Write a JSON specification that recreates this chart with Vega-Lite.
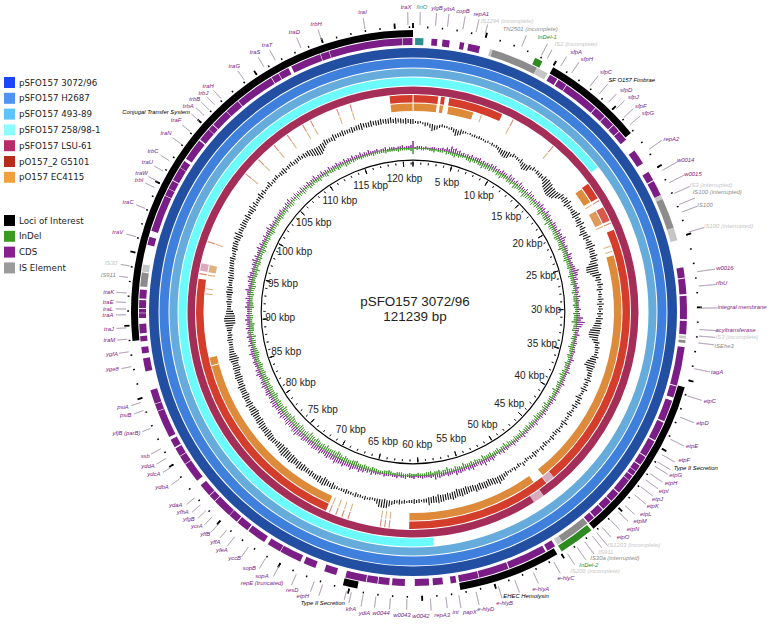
{"$schema":"https://vega.github.io/schema/vega-lite/v6.json","width":716,"height":624,"padding":{"left":55,"top":0,"right":0,"bottom":0},"autosize":{"type":"none"},"background":"white","config":{"view":{"stroke":null}},
"datasets":{
"rings":[{"s":0,"e":121239,"k":"S3072"},{"s":0,"e":121239,"k":"H2687"},{"s":0,"e":121239,"k":"S493"},{"s":0,"e":17500,"k":"S258"},{"s":58900,"e":121239,"k":"S258"},{"s":0,"e":48700,"k":"LSU"},{"s":48700,"e":49700,"k":"LSUpale"},{"s":49700,"e":121239,"k":"LSU"},{"s":0,"e":121239,"k":"Inner"},{"s":0,"e":121239,"k":"Skew"}],
"locus":[{"s":10040,"e":17040,"k":"Locus"},{"s":35530,"e":47220,"k":"Locus"},{"s":50250,"e":57360,"k":"Locus"},{"s":64460,"e":65470,"k":"Locus"},{"s":88950,"e":121239,"k":"Locus"},{"s":8650,"e":9200,"k":"InDel"},{"s":47400,"e":49900,"k":"InDel"}],
"cds":[{"s":150,"e":740,"k":"finO"},{"s":1310,"e":1720,"k":"CDS"},{"s":2090,"e":2600,"k":"CDS"},{"s":3330,"e":3640,"k":"CDS"},{"s":3940,"e":4780,"k":"CDS"},{"s":5500,"e":5690,"k":"ISlight"},{"s":5690,"e":9060,"k":"IS"},{"s":9060,"e":9900,"k":"ISlight"},{"s":10100,"e":10700,"k":"CDS"},{"s":10800,"e":11450,"k":"CDS"},{"s":11500,"e":14050,"k":"CDS"},{"s":14100,"e":14950,"k":"CDS"},{"s":15000,"e":15800,"k":"CDS"},{"s":15850,"e":16400,"k":"CDS"},{"s":16450,"e":17200,"k":"CDS"},{"s":18150,"e":19230,"k":"CDS"},{"s":19950,"e":20620,"k":"CDS"},{"s":20700,"e":21800,"k":"CDS"},{"s":21800,"e":22100,"k":"ISlight"},{"s":22100,"e":24280,"k":"IS"},{"s":24280,"e":25190,"k":"ISlight"},{"s":27150,"e":27880,"k":"CDS"},{"s":27950,"e":29040,"k":"CDS"},{"s":29170,"e":30820,"k":"CDS"},{"s":30950,"e":31890,"k":"CDS"},{"s":32000,"e":32200,"k":"ISlight"},{"s":32300,"e":32500,"k":"IS"},{"s":32800,"e":35560,"k":"CDS"},{"s":35630,"e":36440,"k":"CDS"},{"s":36680,"e":38230,"k":"CDS"},{"s":38330,"e":39710,"k":"CDS"},{"s":39800,"e":41000,"k":"CDS"},{"s":41060,"e":41730,"k":"CDS"},{"s":41800,"e":42270,"k":"CDS"},{"s":42300,"e":42640,"k":"CDS"},{"s":42700,"e":43060,"k":"CDS"},{"s":43100,"e":44200,"k":"CDS"},{"s":44270,"e":45000,"k":"CDS"},{"s":45060,"e":45800,"k":"CDS"},{"s":45870,"e":46620,"k":"CDS"},{"s":46700,"e":47220,"k":"CDS"},{"s":47300,"e":49500,"k":"IS"},{"s":49500,"e":49900,"k":"ISlight"},{"s":50100,"e":50720,"k":"CDS"},{"s":50870,"e":53680,"k":"CDS"},{"s":53750,"e":55900,"k":"CDS"},{"s":55950,"e":57350,"k":"CDS"},{"s":57550,"e":57950,"k":"CDS"},{"s":58500,"e":59210,"k":"CDS"},{"s":59480,"e":60490,"k":"CDS"},{"s":61200,"e":62100,"k":"CDS"},{"s":62300,"e":63080,"k":"CDS"},{"s":63140,"e":63900,"k":"CDS"},{"s":63960,"e":65440,"k":"CDS"},{"s":66110,"e":66990,"k":"CDS"},{"s":67660,"e":68540,"k":"CDS"},{"s":68800,"e":70360,"k":"CDS"},{"s":70400,"e":71400,"k":"CDS"},{"s":71700,"e":73050,"k":"CDS"},{"s":73150,"e":74030,"k":"CDS"},{"s":74100,"e":74770,"k":"CDS"},{"s":74800,"e":76200,"k":"CDS"},{"s":76250,"e":76750,"k":"CDS"},{"s":76800,"e":77730,"k":"CDS"},{"s":78130,"e":79550,"k":"CDS"},{"s":79590,"e":80220,"k":"CDS"},{"s":80260,"e":80870,"k":"CDS"},{"s":80970,"e":81570,"k":"CDS"},{"s":81780,"e":83760,"k":"CDS"},{"s":83800,"e":84300,"k":"CDS"},{"s":84340,"e":85350,"k":"CDS"},{"s":86700,"e":87640,"k":"CDS"},{"s":88000,"e":88450,"k":"CDS"},{"s":88850,"e":89220,"k":"CDS"},{"s":89420,"e":90090,"k":"CDS"},{"s":90500,"e":90840,"k":"CDS"},{"s":90880,"e":91140,"k":"CDS"},{"s":91210,"e":91780,"k":"CDS"},{"s":91880,"e":92520,"k":"CDS"},{"s":92730,"e":93730,"k":"IS"},{"s":93800,"e":94300,"k":"ISlight"},{"s":95720,"e":96290,"k":"CDS"},{"s":96730,"e":99380,"k":"CDS"},{"s":99420,"e":99930,"k":"CDS"},{"s":99960,"e":100570,"k":"CDS"},{"s":100630,"e":101620,"k":"CDS"},{"s":101650,"e":102190,"k":"CDS"},{"s":102390,"e":103970,"k":"CDS"},{"s":104070,"e":104990,"k":"CDS"},{"s":105020,"e":105420,"k":"CDS"},{"s":105480,"e":106770,"k":"CDS"},{"s":106800,"e":107850,"k":"CDS"},{"s":107900,"e":110730,"k":"CDS"},{"s":110770,"e":111320,"k":"CDS"},{"s":111360,"e":112120,"k":"CDS"},{"s":112350,"e":114560,"k":"CDS"},{"s":114600,"e":115220,"k":"CDS"},{"s":115250,"e":120460,"k":"CDS"},{"s":120500,"e":121200,"k":"CDS"}],
"g5101":[{"s":60,"e":2250,"k":"G5101"},{"s":2500,"e":2850,"k":"G5101"},{"s":3250,"e":8180,"k":"G5101"},{"s":9220,"e":9320,"k":"Gpale"},{"s":13500,"e":13600,"k":"Gpale"},{"s":18100,"e":19650,"k":"G5101"},{"s":19850,"e":19950,"k":"Gpale"},{"s":20580,"e":21900,"k":"Gmid"},{"s":22100,"e":22200,"k":"Gpale"},{"s":22800,"e":47000,"k":"G5101"},{"s":47000,"e":47800,"k":"LSUpale"},{"s":47850,"e":60960,"k":"G5101"},{"s":62700,"e":62800,"k":"Gpale"},{"s":63100,"e":63200,"k":"Gpale"},{"s":63500,"e":63600,"k":"Gpale"},{"s":66450,"e":66550,"k":"Gpale"},{"s":67020,"e":67120,"k":"Gpale"},{"s":67600,"e":67700,"k":"Gpale"},{"s":68200,"e":68300,"k":"Gpale"},{"s":68600,"e":93900,"k":"G5101"},{"s":94300,"e":94420,"k":"Gpale"},{"s":94640,"e":95310,"k":"LSUpale"},{"s":97270,"e":97370,"k":"Gpale"},{"s":104200,"e":104300,"k":"Gpale"},{"s":105900,"e":106000,"k":"Gpale"},{"s":107770,"e":107870,"k":"Gpale"},{"s":109260,"e":109360,"k":"Gpale"},{"s":110900,"e":111000,"k":"Gpale"},{"s":111700,"e":111800,"k":"Gpale"},{"s":114250,"e":114350,"k":"Gpale"},{"s":115500,"e":115600,"k":"Gpale"},{"s":119150,"e":121200,"k":"G5101"}],
"ec4115":[{"s":60,"e":2200,"k":"EC4115"},{"s":2490,"e":2800,"k":"EC4115"},{"s":3300,"e":5660,"k":"EC4115"},{"s":6400,"e":6500,"k":"ECpale"},{"s":9220,"e":9320,"k":"ECpale"},{"s":13500,"e":13600,"k":"ECpale"},{"s":18150,"e":19600,"k":"EC4115"},{"s":19850,"e":19950,"k":"ECpale"},{"s":20580,"e":21900,"k":"ECmid"},{"s":22100,"e":22200,"k":"ECpale"},{"s":24050,"e":24150,"k":"ECpale"},{"s":24550,"e":24650,"k":"ECpale"},{"s":25000,"e":47660,"k":"EC4115"},{"s":48730,"e":60960,"k":"EC4115"},{"s":62700,"e":62800,"k":"ECpale"},{"s":63100,"e":63200,"k":"ECpale"},{"s":63500,"e":63600,"k":"ECpale"},{"s":66450,"e":66550,"k":"ECpale"},{"s":67020,"e":67120,"k":"ECpale"},{"s":67600,"e":67700,"k":"ECpale"},{"s":68200,"e":68300,"k":"ECpale"},{"s":68600,"e":85850,"k":"EC4115"},{"s":85950,"e":86660,"k":"EC4115"},{"s":92560,"e":92660,"k":"ECpale"},{"s":93030,"e":93130,"k":"ECpale"},{"s":94300,"e":94420,"k":"ECpale"},{"s":94640,"e":95310,"k":"ECpale"},{"s":97270,"e":97370,"k":"ECpale"},{"s":104200,"e":104300,"k":"ECpale"},{"s":105900,"e":106000,"k":"ECpale"},{"s":107770,"e":107870,"k":"ECpale"},{"s":109260,"e":109360,"k":"ECpale"},{"s":110900,"e":111000,"k":"ECpale"},{"s":111700,"e":111800,"k":"ECpale"},{"s":114250,"e":114350,"k":"ECpale"},{"s":115500,"e":115600,"k":"ECpale"},{"s":119160,"e":121200,"k":"EC4115"}],
"ticks":[{"p":0},{"p":1000},{"p":2000},{"p":3000},{"p":4000},{"p":5000},{"p":6000},{"p":7000},{"p":8000},{"p":9000},{"p":10000},{"p":11000},{"p":12000},{"p":13000},{"p":14000},{"p":15000},{"p":16000},{"p":17000},{"p":18000},{"p":19000},{"p":20000},{"p":21000},{"p":22000},{"p":23000},{"p":24000},{"p":25000},{"p":26000},{"p":27000},{"p":28000},{"p":29000},{"p":30000},{"p":31000},{"p":32000},{"p":33000},{"p":34000},{"p":35000},{"p":36000},{"p":37000},{"p":38000},{"p":39000},{"p":40000},{"p":41000},{"p":42000},{"p":43000},{"p":44000},{"p":45000},{"p":46000},{"p":47000},{"p":48000},{"p":49000},{"p":50000},{"p":51000},{"p":52000},{"p":53000},{"p":54000},{"p":55000},{"p":56000},{"p":57000},{"p":58000},{"p":59000},{"p":60000},{"p":61000},{"p":62000},{"p":63000},{"p":64000},{"p":65000},{"p":66000},{"p":67000},{"p":68000},{"p":69000},{"p":70000},{"p":71000},{"p":72000},{"p":73000},{"p":74000},{"p":75000},{"p":76000},{"p":77000},{"p":78000},{"p":79000},{"p":80000},{"p":81000},{"p":82000},{"p":83000},{"p":84000},{"p":85000},{"p":86000},{"p":87000},{"p":88000},{"p":89000},{"p":90000},{"p":91000},{"p":92000},{"p":93000},{"p":94000},{"p":95000},{"p":96000},{"p":97000},{"p":98000},{"p":99000},{"p":100000},{"p":101000},{"p":102000},{"p":103000},{"p":104000},{"p":105000},{"p":106000},{"p":107000},{"p":108000},{"p":109000},{"p":110000},{"p":111000},{"p":112000},{"p":113000},{"p":114000},{"p":115000},{"p":116000},{"p":117000},{"p":118000},{"p":119000},{"p":120000},{"p":121000}],
"kbp":[{"p":5000,"t":"5 kbp"},{"p":10000,"t":"10 kbp"},{"p":15000,"t":"15 kbp"},{"p":20000,"t":"20 kbp"},{"p":25000,"t":"25 kbp"},{"p":30000,"t":"30 kbp"},{"p":35000,"t":"35 kbp"},{"p":40000,"t":"40 kbp"},{"p":45000,"t":"45 kbp"},{"p":50000,"t":"50 kbp"},{"p":55000,"t":"55 kbp"},{"p":60000,"t":"60 kbp"},{"p":65000,"t":"65 kbp"},{"p":70000,"t":"70 kbp"},{"p":75000,"t":"75 kbp"},{"p":80000,"t":"80 kbp"},{"p":85000,"t":"85 kbp"},{"p":90000,"t":"90 kbp"},{"p":95000,"t":"95 kbp"},{"p":100000,"t":"100 kbp"},{"p":105000,"t":"105 kbp"},{"p":110000,"t":"110 kbp"},{"p":115000,"t":"115 kbp"},{"p":120000,"t":"120 kbp"}],
"labels":[{"t":"traI","k":"CDS","p":118020,"r":304,"l":118000,"o":298},{"t":"traX","k":"CDS","p":120800,"r":305,"l":120900,"o":300},{"t":"finO","k":"finO","p":570,"r":305,"l":470,"o":300},{"t":"ylgB","k":"CDS","p":1520,"r":305,"l":1520,"o":300},{"t":"yibA","k":"CDS","p":2290,"r":305,"l":2320,"o":300},{"t":"copB","k":"CDS","p":3170,"r":305,"l":3370,"o":300},{"t":"repA1","k":"CDS","p":4340,"r":306,"l":4280,"o":300},{"t":"IS1294 (incomplete)","k":"ISlight","p":6030,"r":306,"l":4900,"o":297},{"t":"TN2501 (incomplete)","k":"IS","p":7580,"r":306,"l":7500,"o":299},{"t":"InDel-1","k":"InDel","p":8760,"r":306,"l":8960,"o":300},{"t":"IS2 (incomplete)","k":"ISlight","p":10540,"r":314,"l":9400,"o":297},{"t":"sfpA","k":"CDS","p":10810,"r":307,"l":10440,"o":298},{"t":"sfpH","k":"CDS","p":11620,"r":307,"l":11310,"o":300},{"t":"sfpC","k":"CDS","p":13070,"r":308,"l":12830,"o":300},{"t":"SF O157 Fimbrae","k":"Locus","p":14580,"r":319,"l":13640,"o":300},{"t":"sfpD","k":"CDS","p":14750,"r":308,"l":14480,"o":298},{"t":"sfpJ","k":"CDS","p":15390,"r":308,"l":15160,"o":299},{"t":"sfpF","k":"CDS","p":16130,"r":307,"l":15930,"o":300},{"t":"sfpG","k":"CDS","p":16740,"r":308,"l":16570,"o":300},{"t":"repA2","k":"CDS","p":18930,"r":311,"l":18660,"o":302},{"t":"w0014","k":"CDS","p":20510,"r":312,"l":20340,"o":304},{"t":"w0015","k":"CDS","p":21490,"r":312,"l":21290,"o":304},{"t":"IS3 (interrupted)","k":"ISlight","p":22530,"r":324,"l":22090,"o":304},{"t":"IS100 (interrupted)","k":"IS","p":23070,"r":327,"l":22900,"o":304},{"t":"IS100","k":"IS","p":23540,"r":311,"l":23440,"o":303},{"t":"IS100 (interrupted)","k":"ISlight","p":25190,"r":327,"l":24860,"o":303},{"t":"w0016","k":"CDS","p":27620,"r":315,"l":27590,"o":305},{"t":"rfbU","k":"CDS","p":28490,"r":310,"l":28560,"o":304},{"t":"integral membrane","k":"CDS","p":30010,"r":329,"l":30050,"o":304},{"t":"acyltransferase","k":"CDS","p":31390,"r":323,"l":31490,"o":304},{"t":"IS3 (incomplete)","k":"ISlight","p":31800,"r":325,"l":31930,"o":303},{"t":"ISEhe3","k":"IS","p":32400,"r":313,"l":32400,"o":303},{"t":"tagA","k":"CDS","p":34080,"r":310,"l":34150,"o":303},{"t":"etpC","k":"CDS","p":35940,"r":310,"l":36040,"o":302},{"t":"etpD","k":"CDS","p":37380,"r":310,"l":37550,"o":302},{"t":"etpE","k":"CDS","p":38930,"r":309.5,"l":39170,"o":302},{"t":"etpF","k":"CDS","p":39940,"r":309,"l":40350,"o":302},{"t":"Type II Secretion","k":"Locus","p":40050,"r":323,"l":40920,"o":302},{"t":"etpG","k":"CDS","p":41020,"r":309,"l":41260,"o":302},{"t":"etpH","k":"CDS","p":41600,"r":309.5,"l":41860,"o":302},{"t":"etpI","k":"CDS","p":42270,"r":308,"l":42370,"o":302},{"t":"etpJ","k":"CDS","p":42910,"r":308,"l":42940,"o":302},{"t":"etpK","k":"CDS","p":43450,"r":308.6,"l":43620,"o":302},{"t":"etpL","k":"CDS","p":44090,"r":308,"l":44590,"o":300},{"t":"etpM","k":"CDS","p":44660,"r":308.6,"l":45200,"o":300},{"t":"etpN","k":"CDS","p":45330,"r":309,"l":45970,"o":300},{"t":"etpO","k":"CDS","p":46140,"r":308,"l":46710,"o":300},{"t":"IS1203 (incomplete)","k":"ISlight","p":45970,"r":321,"l":47220,"o":304},{"t":"IS911","k":"ISlight","p":47560,"r":308,"l":47590,"o":302},{"t":"IS30a (interrupted)","k":"IS","p":47350,"r":318,"l":48230,"o":302},{"t":"InDel-2","k":"InDel","p":48900,"r":308,"l":48870,"o":302},{"t":"IS200 (incomplete)","k":"ISlight","p":48800,"r":316.5,"l":49640,"o":300},{"t":"e-hlyC","k":"CDS","p":50550,"r":307,"l":50720,"o":300},{"t":"e-hlyA","k":"CDS","p":52270,"r":305,"l":52270,"o":299},{"t":"EHEC Hemolysin","k":"Locus","p":53320,"r":306,"l":53620,"o":300},{"t":"e-hlyB","k":"CDS","p":54730,"r":305,"l":54800,"o":300},{"t":"e-hlyD","k":"CDS","p":55980,"r":306,"l":56340,"o":300},{"t":"papX","k":"CDS","p":57000,"r":305,"l":57520,"o":300},{"t":"int","k":"CDS","p":57900,"r":303,"l":58400,"o":298},{"t":"repA3","k":"CDS","p":58770,"r":304,"l":59450,"o":299},{"t":"w0042","k":"CDS","p":60120,"r":304,"l":61030,"o":298},{"t":"w0043","k":"CDS","p":61330,"r":303,"l":62140,"o":298},{"t":"w0044","k":"CDS","p":62650,"r":303,"l":63120,"o":298},{"t":"ydiA","k":"CDS","p":63700,"r":305,"l":63990,"o":299},{"t":"kfrA","k":"CDS","p":64600,"r":303,"l":64800,"o":298},{"t":"Type II Secretion","k":"Locus","p":66420,"r":305,"l":65140,"o":296},{"t":"etpH","k":"CDS","p":67760,"r":304.6,"l":66800,"o":299},{"t":"resD","k":"CDS","p":68530,"r":303,"l":67400,"o":298},{"t":"repE (truncated)","k":"CDS","p":70440,"r":310,"l":68700,"o":299},{"t":"sopA","k":"CDS","p":70660,"r":304,"l":69990,"o":299},{"t":"sopB","k":"CDS","p":71600,"r":304,"l":71030,"o":299},{"t":"yccB","k":"CDS","p":72720,"r":304,"l":72410,"o":299},{"t":"yfeA","k":"CDS","p":73690,"r":305,"l":73560,"o":299},{"t":"yffA","k":"CDS","p":74330,"r":303,"l":74260,"o":297},{"t":"yffB","k":"CDS","p":75140,"r":304,"l":74940,"o":299},{"t":"ycrA","k":"CDS","p":75880,"r":304,"l":75580,"o":298},{"t":"yfgB","k":"CDS","p":76550,"r":305,"l":76180,"o":298},{"t":"yfhA","k":"CDS","p":77130,"r":305,"l":76720,"o":298},{"t":"ydaA","k":"CDS","p":77730,"r":306,"l":77330,"o":297},{"t":"ydbA","k":"CDS","p":79180,"r":306,"l":78950,"o":297},{"t":"ydcA","k":"CDS","p":80160,"r":305.5,"l":79920,"o":297},{"t":"yddA","k":"CDS","p":80760,"r":306.5,"l":80600,"o":298},{"t":"ssb","k":"CDS","p":81410,"r":304,"l":81340,"o":298},{"t":"yfjB (parB)","k":"CDS","p":83220,"r":311,"l":82890,"o":296},{"t":"psiB","k":"CDS","p":84300,"r":305,"l":84170,"o":297},{"t":"psiA","k":"CDS","p":84840,"r":305,"l":84740,"o":297},{"t":"yge8","k":"CDS","p":87330,"r":306,"l":87230,"o":297},{"t":"ygfA","k":"CDS","p":88240,"r":304,"l":88240,"o":297},{"t":"traM","k":"CDS","p":89150,"r":305,"l":89100,"o":297},{"t":"traJ","k":"CDS","p":89860,"r":304.5,"l":89860,"o":297},{"t":"traA","k":"CDS","p":90740,"r":305,"l":90740,"o":297},{"t":"traL","k":"CDS","p":91130,"r":305,"l":91130,"o":297},{"t":"traE","k":"CDS","p":91580,"r":305,"l":91580,"o":297},{"t":"traK","k":"CDS","p":92210,"r":305,"l":92210,"o":297},{"t":"IS911","k":"IS","p":93260,"r":307,"l":93260,"o":296},{"t":"IS30","k":"ISlight","p":94040,"r":306,"l":94040,"o":296},{"t":"traV","k":"CDS","p":96050,"r":306,"l":96050,"o":297},{"t":"traC","k":"CDS","p":98050,"r":305.5,"l":98050,"o":297},{"t":"trbI","k":"CDS","p":99590,"r":304,"l":99590,"o":297},{"t":"traW","k":"CDS","p":100060,"r":305,"l":100060,"o":297},{"t":"traU","k":"CDS","p":100840,"r":305,"l":100840,"o":297},{"t":"trbC","k":"CDS","p":101650,"r":306,"l":101650,"o":297},{"t":"traN","k":"CDS","p":103030,"r":305,"l":103030,"o":297},{"t":"traF","k":"CDS","p":104070,"r":305,"l":104070,"o":297},{"t":"Conjugal Transfer System","k":"Locus","p":103700,"r":325.6,"l":105000,"o":297},{"t":"trbA","k":"CDS","p":105250,"r":305,"l":105500,"o":298},{"t":"trbB","k":"CDS","p":105850,"r":305,"l":106000,"o":298},{"t":"trbJ","k":"CDS","p":106500,"r":303,"l":106500,"o":298},{"t":"traH","k":"CDS","p":107030,"r":305,"l":107100,"o":298},{"t":"traG","k":"CDS","p":109110,"r":304,"l":109110,"o":298},{"t":"traS","k":"CDS","p":110700,"r":304,"l":110700,"o":298},{"t":"traT","k":"CDS","p":111580,"r":304,"l":111580,"o":298},{"t":"traD","k":"CDS","p":113500,"r":304,"l":113500,"o":298},{"t":"trbH","k":"CDS","p":114980,"r":304,"l":114980,"o":298}],
"tracks":[{"p":0,"a":188,"b":193,"u":171,"d":158},{"p":500,"a":188,"b":191,"u":166,"d":162},{"p":1000,"a":188,"b":190,"u":166,"d":162},{"p":1500,"a":187,"b":190,"u":166,"d":163},{"p":2000,"a":182,"b":189,"u":165,"d":162},{"p":2500,"a":184,"b":188,"u":166,"d":161},{"p":3000,"a":187,"b":190,"u":166,"d":162},{"p":3500,"a":187,"b":189,"u":167,"d":162},{"p":4000,"a":186,"b":189,"u":168,"d":161},{"p":4500,"a":181,"b":188,"u":170,"d":162},{"p":5000,"a":183,"b":189,"u":169,"d":160},{"p":5500,"a":186,"b":188,"u":168,"d":161},{"p":6000,"a":186,"b":188,"u":167,"d":162},{"p":6500,"a":185,"b":188,"u":167,"d":161},{"p":7000,"a":185,"b":188,"u":168,"d":160},{"p":7500,"a":185,"b":187,"u":167,"d":161},{"p":8000,"a":185,"b":187,"u":168,"d":161},{"p":8500,"a":184,"b":187,"u":167,"d":159},{"p":9000,"a":184,"b":187,"u":167,"d":160},{"p":9500,"a":181,"b":186,"u":168,"d":160},{"p":10000,"a":179,"b":186,"u":168,"d":161},{"p":10500,"a":180,"b":187,"u":167,"d":160},{"p":11000,"a":184,"b":188,"u":168,"d":159},{"p":11500,"a":184,"b":187,"u":167,"d":161},{"p":12000,"a":183,"b":188,"u":169,"d":160},{"p":12500,"a":179,"b":186,"u":168,"d":160},{"p":13000,"a":181,"b":188,"u":168,"d":159},{"p":13500,"a":185,"b":189,"u":169,"d":161},{"p":14000,"a":185,"b":189,"u":167,"d":160},{"p":14500,"a":184,"b":189,"u":168,"d":158},{"p":15000,"a":184,"b":190,"u":169,"d":160},{"p":15500,"a":180,"b":190,"u":168,"d":161},{"p":16000,"a":178,"b":189,"u":167,"d":159},{"p":16500,"a":177,"b":188,"u":168,"d":160},{"p":17000,"a":179,"b":188,"u":169,"d":161},{"p":17500,"a":184,"b":191,"u":168,"d":158},{"p":18000,"a":185,"b":192,"u":169,"d":161},{"p":18500,"a":184,"b":193,"u":168,"d":160},{"p":19000,"a":186,"b":191,"u":167,"d":158},{"p":19500,"a":186,"b":191,"u":168,"d":160},{"p":20000,"a":185,"b":194,"u":167,"d":161},{"p":20500,"a":186,"b":192,"u":169,"d":160},{"p":21000,"a":184,"b":193,"u":168,"d":159},{"p":21500,"a":186,"b":192,"u":170,"d":161},{"p":22000,"a":183,"b":191,"u":167,"d":160},{"p":22500,"a":185,"b":193,"u":168,"d":158},{"p":23000,"a":186,"b":192,"u":167,"d":161},{"p":23500,"a":184,"b":194,"u":169,"d":160},{"p":24000,"a":186,"b":192,"u":168,"d":159},{"p":24500,"a":185,"b":193,"u":167,"d":161},{"p":25000,"a":184,"b":192,"u":168,"d":160},{"p":25500,"a":179,"b":191,"u":171,"d":161},{"p":26000,"a":178,"b":190,"u":169,"d":159},{"p":26500,"a":183,"b":192,"u":168,"d":161},{"p":27000,"a":185,"b":191,"u":167,"d":160},{"p":27500,"a":186,"b":192,"u":168,"d":162},{"p":28000,"a":185,"b":191,"u":167,"d":160},{"p":28500,"a":186,"b":190,"u":168,"d":161},{"p":29000,"a":185,"b":191,"u":167,"d":161},{"p":29500,"a":184,"b":191,"u":166,"d":160},{"p":30000,"a":185,"b":190,"u":168,"d":162},{"p":30500,"a":184,"b":190,"u":167,"d":160},{"p":31000,"a":183,"b":190,"u":170,"d":161},{"p":31500,"a":182,"b":189,"u":172,"d":159},{"p":32000,"a":180,"b":189,"u":169,"d":161},{"p":32500,"a":177,"b":188,"u":167,"d":160},{"p":33000,"a":178,"b":187,"u":168,"d":162},{"p":33500,"a":183,"b":189,"u":166,"d":160},{"p":34000,"a":185,"b":190,"u":167,"d":161},{"p":34500,"a":186,"b":190,"u":166,"d":159},{"p":35000,"a":184,"b":191,"u":167,"d":161},{"p":35500,"a":181,"b":190,"u":166,"d":160},{"p":36000,"a":179,"b":190,"u":168,"d":162},{"p":36500,"a":183,"b":189,"u":166,"d":160},{"p":37000,"a":185,"b":190,"u":167,"d":161},{"p":37500,"a":184,"b":191,"u":168,"d":160},{"p":38000,"a":185,"b":190,"u":166,"d":159},{"p":38500,"a":184,"b":191,"u":167,"d":161},{"p":39000,"a":186,"b":189,"u":168,"d":160},{"p":39500,"a":183,"b":190,"u":166,"d":161},{"p":40000,"a":185,"b":191,"u":167,"d":159},{"p":40500,"a":184,"b":190,"u":166,"d":161},{"p":41000,"a":186,"b":189,"u":168,"d":160},{"p":41500,"a":184,"b":190,"u":167,"d":161},{"p":42000,"a":185,"b":189,"u":166,"d":159},{"p":42500,"a":184,"b":191,"u":167,"d":160},{"p":43000,"a":186,"b":189,"u":168,"d":161},{"p":43500,"a":185,"b":190,"u":167,"d":160},{"p":44000,"a":184,"b":189,"u":166,"d":159},{"p":44500,"a":185,"b":190,"u":168,"d":161},{"p":45000,"a":186,"b":189,"u":167,"d":160},{"p":45500,"a":184,"b":189,"u":166,"d":160},{"p":46000,"a":185,"b":190,"u":167,"d":161},{"p":46500,"a":185,"b":188,"u":168,"d":159},{"p":47000,"a":184,"b":190,"u":166,"d":161},{"p":47500,"a":185,"b":189,"u":167,"d":160},{"p":48000,"a":184,"b":188,"u":168,"d":161},{"p":48500,"a":186,"b":190,"u":166,"d":160},{"p":49000,"a":184,"b":188,"u":167,"d":159},{"p":49500,"a":185,"b":189,"u":168,"d":161},{"p":50000,"a":185,"b":188,"u":167,"d":160},{"p":50500,"a":184,"b":189,"u":166,"d":161},{"p":51000,"a":185,"b":191,"u":169,"d":160},{"p":51500,"a":185,"b":193,"u":168,"d":161},{"p":52000,"a":184,"b":191,"u":170,"d":159},{"p":52500,"a":183,"b":190,"u":168,"d":161},{"p":53000,"a":184,"b":191,"u":167,"d":160},{"p":53500,"a":183,"b":190,"u":169,"d":160},{"p":54000,"a":184,"b":191,"u":168,"d":161},{"p":54500,"a":183,"b":189,"u":167,"d":159},{"p":55000,"a":182,"b":190,"u":168,"d":161},{"p":55500,"a":183,"b":191,"u":169,"d":160},{"p":56000,"a":182,"b":190,"u":167,"d":161},{"p":56500,"a":184,"b":192,"u":168,"d":159},{"p":57000,"a":184,"b":191,"u":167,"d":161},{"p":57500,"a":185,"b":192,"u":168,"d":160},{"p":58000,"a":184,"b":193,"u":169,"d":161},{"p":58500,"a":185,"b":192,"u":167,"d":160},{"p":59000,"a":186,"b":194,"u":166,"d":161},{"p":59500,"a":187,"b":191,"u":167,"d":162},{"p":60000,"a":187,"b":191,"u":166,"d":161},{"p":60500,"a":187,"b":192,"u":167,"d":162},{"p":61000,"a":188,"b":191,"u":166,"d":161},{"p":61500,"a":188,"b":192,"u":167,"d":162},{"p":62000,"a":188,"b":193,"u":166,"d":161},{"p":62500,"a":189,"b":193,"u":167,"d":161},{"p":63000,"a":190,"b":196,"u":166,"d":162},{"p":63500,"a":189,"b":198,"u":166,"d":160},{"p":64000,"a":190,"b":198,"u":167,"d":161},{"p":64500,"a":190,"b":193,"u":166,"d":162},{"p":65000,"a":190,"b":193,"u":167,"d":161},{"p":65500,"a":190,"b":194,"u":168,"d":160},{"p":66000,"a":190,"b":193,"u":167,"d":161},{"p":66500,"a":189,"b":194,"u":168,"d":160},{"p":67000,"a":190,"b":193,"u":169,"d":161},{"p":67500,"a":189,"b":194,"u":167,"d":159},{"p":68000,"a":190,"b":193,"u":170,"d":160},{"p":68500,"a":190,"b":193,"u":168,"d":161},{"p":69000,"a":188,"b":195,"u":170,"d":159},{"p":69500,"a":189,"b":194,"u":169,"d":160},{"p":70000,"a":187,"b":196,"u":171,"d":158},{"p":70500,"a":188,"b":195,"u":169,"d":159},{"p":71000,"a":189,"b":194,"u":170,"d":160},{"p":71500,"a":188,"b":194,"u":168,"d":158},{"p":72000,"a":188,"b":193,"u":170,"d":159},{"p":72500,"a":187,"b":194,"u":169,"d":160},{"p":73000,"a":187,"b":195,"u":170,"d":158},{"p":73500,"a":187,"b":193,"u":169,"d":159},{"p":74000,"a":186,"b":195,"u":168,"d":157},{"p":74500,"a":186,"b":194,"u":170,"d":159},{"p":75000,"a":185,"b":195,"u":169,"d":160},{"p":75500,"a":185,"b":193,"u":171,"d":158},{"p":76000,"a":186,"b":192,"u":170,"d":159},{"p":76500,"a":187,"b":192,"u":169,"d":160},{"p":77000,"a":186,"b":193,"u":170,"d":158},{"p":77500,"a":185,"b":193,"u":168,"d":159},{"p":78000,"a":186,"b":192,"u":170,"d":160},{"p":78500,"a":185,"b":193,"u":169,"d":158},{"p":79000,"a":184,"b":192,"u":168,"d":160},{"p":79500,"a":185,"b":191,"u":170,"d":159},{"p":80000,"a":183,"b":192,"u":169,"d":160},{"p":80500,"a":184,"b":191,"u":168,"d":158},{"p":81000,"a":184,"b":192,"u":169,"d":160},{"p":81500,"a":185,"b":190,"u":167,"d":159},{"p":82000,"a":183,"b":191,"u":169,"d":160},{"p":82500,"a":184,"b":190,"u":168,"d":158},{"p":83000,"a":183,"b":191,"u":167,"d":160},{"p":83500,"a":183,"b":189,"u":169,"d":159},{"p":84000,"a":182,"b":190,"u":168,"d":160},{"p":84500,"a":183,"b":189,"u":167,"d":159},{"p":85000,"a":181,"b":189,"u":168,"d":161},{"p":85500,"a":182,"b":188,"u":167,"d":160},{"p":86000,"a":180,"b":190,"u":169,"d":159},{"p":86500,"a":182,"b":189,"u":167,"d":160},{"p":87000,"a":183,"b":188,"u":168,"d":161},{"p":87500,"a":183,"b":187,"u":167,"d":160},{"p":88000,"a":182,"b":188,"u":168,"d":159},{"p":88500,"a":182,"b":187,"u":167,"d":161},{"p":89000,"a":182,"b":187,"u":168,"d":160},{"p":89500,"a":180,"b":188,"u":167,"d":159},{"p":90000,"a":178,"b":189,"u":168,"d":161},{"p":90500,"a":178,"b":188,"u":167,"d":160},{"p":91000,"a":180,"b":187,"u":166,"d":161},{"p":91500,"a":182,"b":186,"u":168,"d":159},{"p":92000,"a":181,"b":187,"u":167,"d":160},{"p":92500,"a":182,"b":187,"u":168,"d":161},{"p":93000,"a":181,"b":188,"u":167,"d":160},{"p":93500,"a":182,"b":188,"u":169,"d":161},{"p":94000,"a":183,"b":187,"u":167,"d":159},{"p":94500,"a":182,"b":188,"u":168,"d":160},{"p":95000,"a":183,"b":189,"u":169,"d":161},{"p":95500,"a":184,"b":189,"u":168,"d":160},{"p":96000,"a":185,"b":190,"u":167,"d":159},{"p":96500,"a":185,"b":191,"u":168,"d":161},{"p":97000,"a":186,"b":190,"u":169,"d":160},{"p":97500,"a":186,"b":192,"u":168,"d":160},{"p":98000,"a":187,"b":193,"u":167,"d":161},{"p":98500,"a":187,"b":194,"u":169,"d":159},{"p":99000,"a":186,"b":195,"u":168,"d":160},{"p":99500,"a":188,"b":193,"u":167,"d":161},{"p":100000,"a":187,"b":194,"u":168,"d":160},{"p":100500,"a":188,"b":193,"u":167,"d":161},{"p":101000,"a":187,"b":194,"u":169,"d":159},{"p":101500,"a":188,"b":193,"u":168,"d":161},{"p":102000,"a":187,"b":195,"u":167,"d":160},{"p":102500,"a":188,"b":194,"u":168,"d":161},{"p":103000,"a":189,"b":193,"u":167,"d":160},{"p":103500,"a":188,"b":195,"u":168,"d":161},{"p":104000,"a":189,"b":194,"u":167,"d":160},{"p":104500,"a":190,"b":193,"u":168,"d":161},{"p":105000,"a":189,"b":195,"u":169,"d":160},{"p":105500,"a":189,"b":193,"u":167,"d":162},{"p":106000,"a":190,"b":194,"u":168,"d":160},{"p":106500,"a":189,"b":193,"u":167,"d":161},{"p":107000,"a":188,"b":194,"u":168,"d":160},{"p":107500,"a":189,"b":193,"u":167,"d":162},{"p":108000,"a":189,"b":194,"u":168,"d":160},{"p":108500,"a":188,"b":193,"u":167,"d":161},{"p":109000,"a":189,"b":194,"u":169,"d":161},{"p":109500,"a":188,"b":193,"u":167,"d":160},{"p":110000,"a":187,"b":193,"u":168,"d":162},{"p":110500,"a":184,"b":192,"u":167,"d":160},{"p":111000,"a":182,"b":191,"u":168,"d":161},{"p":111500,"a":184,"b":192,"u":167,"d":161},{"p":112000,"a":188,"b":194,"u":168,"d":160},{"p":112500,"a":189,"b":193,"u":167,"d":162},{"p":113000,"a":188,"b":195,"u":168,"d":160},{"p":113500,"a":190,"b":194,"u":167,"d":161},{"p":114000,"a":189,"b":195,"u":168,"d":161},{"p":114500,"a":190,"b":194,"u":167,"d":162},{"p":115000,"a":189,"b":195,"u":168,"d":161},{"p":115500,"a":190,"b":195,"u":167,"d":162},{"p":116000,"a":189,"b":196,"u":168,"d":162},{"p":116500,"a":190,"b":195,"u":166,"d":161},{"p":117000,"a":190,"b":196,"u":167,"d":162},{"p":117500,"a":190,"b":195,"u":166,"d":162},{"p":118000,"a":190,"b":196,"u":167,"d":161},{"p":118500,"a":190,"b":195,"u":166,"d":162},{"p":119000,"a":190,"b":196,"u":166,"d":162},{"p":119500,"a":189,"b":195,"u":166,"d":161},{"p":120000,"a":189,"b":194,"u":167,"d":162},{"p":120500,"a":188,"b":194,"u":166,"d":162},{"p":121000,"a":188,"b":193,"u":167,"d":161},
{"p":250,"a":189,"b":191,"u":165,"d":163},{"p":750,"a":189,"b":191,"u":166,"d":163},{"p":1250,"a":186,"b":190,"u":165,"d":162},{"p":1750,"a":185,"b":189,"u":165,"d":163},{"p":2250,"a":183,"b":188,"u":166,"d":162},{"p":2750,"a":186,"b":189,"u":165,"d":163},{"p":3250,"a":187,"b":189,"u":166,"d":162},{"p":3750,"a":186,"b":188,"u":166,"d":163},{"p":4250,"a":184,"b":188,"u":167,"d":162},{"p":4750,"a":182,"b":187,"u":168,"d":161},{"p":5250,"a":185,"b":188,"u":167,"d":162},{"p":5750,"a":186,"b":187,"u":166,"d":162},{"p":6250,"a":185,"b":187,"u":166,"d":163},{"p":6750,"a":185,"b":187,"u":166,"d":161},{"p":7250,"a":185,"b":187,"u":166,"d":162},{"p":7750,"a":184,"b":186,"u":167,"d":162},{"p":8250,"a":185,"b":186,"u":166,"d":161},{"p":8750,"a":184,"b":186,"u":166,"d":161},{"p":9250,"a":183,"b":186,"u":166,"d":161},{"p":9750,"a":180,"b":185,"u":167,"d":162},{"p":10250,"a":179,"b":186,"u":166,"d":162},{"p":10750,"a":183,"b":186,"u":166,"d":161},{"p":11250,"a":185,"b":187,"u":167,"d":161},{"p":11750,"a":184,"b":186,"u":166,"d":162},{"p":12250,"a":181,"b":186,"u":167,"d":161},{"p":12750,"a":180,"b":186,"u":166,"d":162},{"p":13250,"a":184,"b":187,"u":166,"d":160},{"p":13750,"a":186,"b":188,"u":167,"d":161},{"p":14250,"a":185,"b":188,"u":166,"d":161},{"p":14750,"a":185,"b":188,"u":166,"d":160},{"p":15250,"a":182,"b":189,"u":167,"d":161},{"p":15750,"a":179,"b":189,"u":166,"d":160},{"p":16250,"a":177,"b":187,"u":166,"d":161},{"p":16750,"a":178,"b":187,"u":167,"d":161},{"p":17250,"a":182,"b":189,"u":167,"d":160},{"p":17750,"a":186,"b":190,"u":166,"d":161},{"p":18250,"a":186,"b":191,"u":167,"d":160},{"p":18750,"a":186,"b":190,"u":166,"d":161},{"p":19250,"a":187,"b":190,"u":166,"d":161},{"p":19750,"a":186,"b":192,"u":167,"d":160},{"p":20250,"a":187,"b":191,"u":166,"d":161},{"p":20750,"a":186,"b":191,"u":167,"d":161},{"p":21250,"a":187,"b":190,"u":167,"d":160},{"p":21750,"a":185,"b":190,"u":168,"d":161},{"p":22250,"a":186,"b":191,"u":166,"d":160},{"p":22750,"a":187,"b":190,"u":167,"d":161},{"p":23250,"a":186,"b":192,"u":166,"d":161},{"p":23750,"a":187,"b":191,"u":167,"d":160},{"p":24250,"a":186,"b":191,"u":166,"d":161},{"p":24750,"a":186,"b":191,"u":167,"d":161},{"p":25250,"a":182,"b":190,"u":168,"d":162},{"p":25750,"a":178,"b":190,"u":169,"d":161},{"p":26250,"a":181,"b":190,"u":167,"d":161},{"p":26750,"a":186,"b":190,"u":166,"d":161},{"p":27250,"a":187,"b":190,"u":166,"d":162},{"p":27750,"a":187,"b":190,"u":166,"d":161},{"p":28250,"a":187,"b":189,"u":166,"d":162},{"p":28750,"a":186,"b":189,"u":166,"d":161},{"p":29250,"a":186,"b":189,"u":166,"d":162},{"p":29750,"a":186,"b":189,"u":166,"d":161},{"p":30250,"a":186,"b":188,"u":166,"d":162},{"p":30750,"a":185,"b":188,"u":167,"d":161},{"p":31250,"a":183,"b":188,"u":168,"d":161},{"p":31750,"a":181,"b":188,"u":170,"d":162},{"p":32250,"a":178,"b":188,"u":167,"d":161},{"p":32750,"a":177,"b":187,"u":166,"d":162},{"p":33250,"a":181,"b":187,"u":166,"d":161},{"p":33750,"a":185,"b":188,"u":166,"d":162},{"p":34250,"a":186,"b":189,"u":166,"d":161},{"p":34750,"a":186,"b":189,"u":166,"d":161},{"p":35250,"a":183,"b":189,"u":166,"d":162},{"p":35750,"a":180,"b":189,"u":166,"d":161},{"p":36250,"a":182,"b":189,"u":166,"d":162},{"p":36750,"a":185,"b":189,"u":166,"d":161},{"p":37250,"a":186,"b":189,"u":166,"d":162},{"p":37750,"a":186,"b":189,"u":166,"d":161},{"p":38250,"a":186,"b":189,"u":166,"d":161},{"p":38750,"a":186,"b":189,"u":166,"d":162},{"p":39250,"a":185,"b":188,"u":166,"d":161},{"p":39750,"a":186,"b":189,"u":166,"d":162},{"p":40250,"a":186,"b":189,"u":166,"d":161},{"p":40750,"a":186,"b":188,"u":166,"d":162},{"p":41250,"a":185,"b":188,"u":166,"d":161},{"p":41750,"a":186,"b":188,"u":166,"d":162},{"p":42250,"a":186,"b":188,"u":166,"d":161},{"p":42750,"a":185,"b":188,"u":166,"d":162},{"p":43250,"a":186,"b":188,"u":166,"d":161},{"p":43750,"a":185,"b":188,"u":166,"d":161},{"p":44250,"a":186,"b":188,"u":166,"d":162},{"p":44750,"a":186,"b":188,"u":166,"d":161},{"p":45250,"a":185,"b":188,"u":166,"d":162},{"p":45750,"a":186,"b":188,"u":166,"d":161},{"p":46250,"a":186,"b":187,"u":166,"d":162},{"p":46750,"a":185,"b":188,"u":166,"d":161},{"p":47250,"a":186,"b":188,"u":166,"d":161},{"p":47750,"a":185,"b":187,"u":166,"d":162},{"p":48250,"a":186,"b":188,"u":166,"d":161},{"p":48750,"a":185,"b":187,"u":166,"d":162},{"p":49250,"a":186,"b":188,"u":166,"d":161},{"p":49750,"a":185,"b":187,"u":166,"d":162},{"p":50250,"a":185,"b":187,"u":165,"d":161},{"p":50750,"a":185,"b":189,"u":167,"d":162},{"p":51250,"a":185,"b":191,"u":167,"d":161},{"p":51750,"a":185,"b":191,"u":167,"d":161},{"p":52250,"a":184,"b":190,"u":167,"d":162},{"p":52750,"a":184,"b":190,"u":166,"d":161},{"p":53250,"a":184,"b":190,"u":167,"d":162},{"p":53750,"a":184,"b":190,"u":167,"d":161},{"p":54250,"a":183,"b":189,"u":166,"d":161},{"p":54750,"a":183,"b":189,"u":167,"d":162},{"p":55250,"a":183,"b":190,"u":167,"d":161},{"p":55750,"a":183,"b":190,"u":166,"d":162},{"p":56250,"a":184,"b":191,"u":167,"d":161},{"p":56750,"a":185,"b":191,"u":166,"d":161},{"p":57250,"a":185,"b":191,"u":167,"d":162},{"p":57750,"a":185,"b":192,"u":167,"d":161},{"p":58250,"a":186,"b":192,"u":166,"d":162},{"p":58750,"a":186,"b":192,"u":166,"d":161},{"p":59250,"a":187,"b":191,"u":166,"d":162},{"p":59750,"a":188,"b":190,"u":166,"d":162},{"p":60250,"a":188,"b":191,"u":165,"d":162},{"p":60750,"a":188,"b":191,"u":166,"d":162},{"p":61250,"a":189,"b":191,"u":165,"d":162},{"p":61750,"a":189,"b":192,"u":166,"d":162},{"p":62250,"a":189,"b":192,"u":165,"d":161},{"p":62750,"a":190,"b":194,"u":166,"d":162},{"p":63250,"a":190,"b":198,"u":165,"d":161},{"p":63750,"a":190,"b":198,"u":166,"d":161},{"p":64250,"a":190,"b":195,"u":165,"d":162},{"p":64750,"a":190,"b":192,"u":166,"d":162},{"p":65250,"a":191,"b":193,"u":166,"d":161},{"p":65750,"a":191,"b":193,"u":166,"d":162},{"p":66250,"a":190,"b":193,"u":166,"d":161},{"p":66750,"a":191,"b":193,"u":167,"d":161},{"p":67250,"a":190,"b":193,"u":167,"d":161},{"p":67750,"a":190,"b":193,"u":168,"d":160},{"p":68250,"a":191,"b":193,"u":168,"d":161},{"p":68750,"a":190,"b":194,"u":168,"d":160},{"p":69250,"a":190,"b":194,"u":168,"d":161},{"p":69750,"a":188,"b":195,"u":169,"d":159},{"p":70250,"a":189,"b":195,"u":168,"d":160},{"p":70750,"a":189,"b":194,"u":168,"d":160},{"p":71250,"a":189,"b":193,"u":169,"d":160},{"p":71750,"a":189,"b":193,"u":168,"d":160},{"p":72250,"a":188,"b":193,"u":168,"d":160},{"p":72750,"a":188,"b":194,"u":169,"d":159},{"p":73250,"a":188,"b":193,"u":168,"d":160},{"p":73750,"a":187,"b":194,"u":168,"d":159},{"p":74250,"a":187,"b":194,"u":169,"d":160},{"p":74750,"a":186,"b":194,"u":168,"d":160},{"p":75250,"a":186,"b":194,"u":169,"d":159},{"p":75750,"a":186,"b":192,"u":169,"d":160},{"p":76250,"a":187,"b":191,"u":168,"d":160},{"p":76750,"a":187,"b":192,"u":168,"d":159},{"p":77250,"a":186,"b":192,"u":168,"d":160},{"p":77750,"a":186,"b":192,"u":168,"d":160},{"p":78250,"a":186,"b":192,"u":168,"d":159},{"p":78750,"a":185,"b":191,"u":167,"d":160},{"p":79250,"a":185,"b":191,"u":168,"d":160},{"p":79750,"a":184,"b":191,"u":168,"d":160},{"p":80250,"a":184,"b":191,"u":167,"d":159},{"p":80750,"a":185,"b":190,"u":167,"d":160},{"p":81250,"a":185,"b":190,"u":168,"d":160},{"p":81750,"a":184,"b":190,"u":167,"d":160},{"p":82250,"a":184,"b":190,"u":167,"d":160},{"p":82750,"a":184,"b":190,"u":166,"d":159},{"p":83250,"a":184,"b":189,"u":167,"d":160},{"p":83750,"a":183,"b":189,"u":167,"d":160},{"p":84250,"a":183,"b":189,"u":166,"d":160},{"p":84750,"a":182,"b":188,"u":167,"d":160},{"p":85250,"a":182,"b":188,"u":166,"d":161},{"p":85750,"a":181,"b":189,"u":167,"d":160},{"p":86250,"a":181,"b":189,"u":167,"d":160},{"p":86750,"a":183,"b":188,"u":166,"d":161},{"p":87250,"a":183,"b":187,"u":166,"d":160},{"p":87750,"a":183,"b":187,"u":166,"d":161},{"p":88250,"a":183,"b":187,"u":166,"d":161},{"p":88750,"a":183,"b":186,"u":166,"d":160},{"p":89250,"a":181,"b":187,"u":166,"d":160},{"p":89750,"a":178,"b":188,"u":166,"d":161},{"p":90250,"a":178,"b":189,"u":166,"d":160},{"p":90750,"a":179,"b":187,"u":166,"d":161},{"p":91250,"a":182,"b":186,"u":166,"d":161},{"p":91750,"a":182,"b":186,"u":166,"d":160},{"p":92250,"a":182,"b":186,"u":166,"d":161},{"p":92750,"a":182,"b":187,"u":166,"d":161},{"p":93250,"a":182,"b":187,"u":167,"d":161},{"p":93750,"a":183,"b":186,"u":166,"d":160},{"p":94250,"a":183,"b":187,"u":166,"d":161},{"p":94750,"a":183,"b":187,"u":167,"d":161},{"p":95250,"a":184,"b":188,"u":167,"d":160},{"p":95750,"a":185,"b":189,"u":166,"d":161},{"p":96250,"a":186,"b":190,"u":166,"d":161},{"p":96750,"a":186,"b":189,"u":167,"d":160},{"p":97250,"a":187,"b":191,"u":166,"d":161},{"p":97750,"a":187,"b":192,"u":166,"d":161},{"p":98250,"a":188,"b":192,"u":167,"d":160},{"p":98750,"a":187,"b":193,"u":166,"d":161},{"p":99250,"a":188,"b":192,"u":166,"d":161},{"p":99750,"a":188,"b":192,"u":166,"d":161},{"p":100250,"a":188,"b":193,"u":166,"d":161},{"p":100750,"a":188,"b":192,"u":167,"d":160},{"p":101250,"a":189,"b":192,"u":166,"d":161},{"p":101750,"a":188,"b":193,"u":166,"d":161},{"p":102250,"a":189,"b":192,"u":166,"d":161},{"p":102750,"a":189,"b":192,"u":166,"d":161},{"p":103250,"a":189,"b":193,"u":167,"d":161},{"p":103750,"a":190,"b":193,"u":166,"d":161},{"p":104250,"a":190,"b":192,"u":166,"d":162},{"p":104750,"a":190,"b":193,"u":167,"d":161},{"p":105250,"a":190,"b":192,"u":166,"d":161},{"p":105750,"a":190,"b":193,"u":166,"d":162},{"p":106250,"a":190,"b":192,"u":166,"d":161},{"p":106750,"a":189,"b":193,"u":166,"d":162},{"p":107250,"a":190,"b":192,"u":166,"d":161},{"p":107750,"a":190,"b":193,"u":166,"d":162},{"p":108250,"a":189,"b":192,"u":166,"d":161},{"p":108750,"a":189,"b":193,"u":167,"d":162},{"p":109250,"a":189,"b":192,"u":166,"d":161},{"p":109750,"a":188,"b":192,"u":166,"d":162},{"p":110250,"a":185,"b":192,"u":166,"d":161},{"p":110750,"a":183,"b":191,"u":166,"d":162},{"p":111250,"a":182,"b":191,"u":166,"d":161},{"p":111750,"a":186,"b":192,"u":166,"d":162},{"p":112250,"a":189,"b":193,"u":166,"d":161},{"p":112750,"a":189,"b":193,"u":166,"d":162},{"p":113250,"a":190,"b":194,"u":166,"d":161},{"p":113750,"a":190,"b":194,"u":166,"d":162},{"p":114250,"a":190,"b":194,"u":166,"d":162},{"p":114750,"a":190,"b":194,"u":166,"d":162},{"p":115250,"a":190,"b":194,"u":166,"d":162},{"p":115750,"a":190,"b":195,"u":166,"d":162},{"p":116250,"a":191,"b":195,"u":166,"d":162},{"p":116750,"a":190,"b":195,"u":166,"d":162},{"p":117250,"a":191,"b":195,"u":165,"d":162},{"p":117750,"a":190,"b":195,"u":166,"d":162},{"p":118250,"a":191,"b":195,"u":165,"d":162},{"p":118750,"a":190,"b":195,"u":166,"d":162},{"p":119250,"a":190,"b":194,"u":165,"d":162},{"p":119750,"a":190,"b":194,"u":166,"d":162},{"p":120250,"a":189,"b":193,"u":165,"d":162},{"p":120750,"a":189,"b":193,"u":166,"d":162}]
},
"resolve":{"scale":{"color":"independent"}},
"layer":[
{"layer":[
{"encoding":{"theta":{"field":"s","type":"quantitative","stack":null,"scale":{"domain":[0,121239],"range":[0,6.283185]}},"theta2":{"field":"e"},"color":{"field":"k","type":"nominal","legend":null,"scale":{"domain":["S3072","H2687","S493","S258","LSU","LSUpale","G5101","Gmid","Gpale","EC4115","ECmid","ECpale","Locus","InDel","CDS","IS","ISlight","finO","Inner","Skew"],"range":["#234fa3","#3f80dc","#65acdc","#6cfbfd","#a52e58","#d9a9bd","#d43c2c","#d9594b","#d98a78","#dd8a3a","#de9a5a","#dfb27e","#000000","#2f8a22","#7a1d86","#8c8c8c","#c6c6c6","#2f8f8f","#000000","#6aa84f"]}}},
"layer":[
{"data":{"name":"rings"},"transform":[{"filter":"datum.k=='S3072'"}],"mark":{"type":"arc","innerRadius":254.5,"outerRadius":264}},
{"data":{"name":"rings"},"transform":[{"filter":"datum.k=='H2687'"}],"mark":{"type":"arc","innerRadius":244.5,"outerRadius":253.5}},
{"data":{"name":"rings"},"transform":[{"filter":"datum.k=='S493'"}],"mark":{"type":"arc","innerRadius":235.5,"outerRadius":243.5}},
{"data":{"name":"rings"},"transform":[{"filter":"datum.k=='S258'"}],"mark":{"type":"arc","innerRadius":226.5,"outerRadius":234.5}},
{"data":{"name":"rings"},"transform":[{"filter":"datum.k=='LSU'||datum.k=='LSUpale'"}],"mark":{"type":"arc","innerRadius":218,"outerRadius":225.5}},
{"data":{"name":"rings"},"transform":[{"filter":"datum.k=='Inner'"}],"mark":{"type":"arc","innerRadius":151.2,"outerRadius":152.4}},
{"data":{"name":"rings"},"transform":[{"filter":"datum.k=='Skew'"}],"mark":{"type":"arc","innerRadius":163.6,"outerRadius":164.5}},
{"data":{"name":"locus"},"mark":{"type":"arc","innerRadius":275,"outerRadius":282}},
{"data":{"name":"cds"},"mark":{"type":"arc","innerRadius":267,"outerRadius":274}},
{"data":{"name":"g5101"},"mark":{"type":"arc","innerRadius":209.5,"outerRadius":217}},
{"data":{"name":"ec4115"},"mark":{"type":"arc","innerRadius":201,"outerRadius":208.5}}
]},
{"data":{"name":"tracks"},"mark":{"type":"arc","stroke":"#111111","strokeWidth":1.1,"fill":null},"encoding":{"theta":{"field":"p","type":"quantitative","stack":null},"theta2":{"field":"p"},"radius":{"field":"b","type":"quantitative","scale":{"domain":[0,400],"range":[0,400]}},"radius2":{"field":"a"}}},
{"data":{"name":"tracks"},"mark":{"type":"arc","stroke":"#8a2a9c","strokeWidth":1,"innerRadius":164,"fill":null},"encoding":{"theta":{"field":"p","type":"quantitative","stack":null},"theta2":{"field":"p"},"radius":{"field":"u","type":"quantitative"}}},
{"data":{"name":"tracks"},"mark":{"type":"arc","stroke":"#3f9a2a","strokeWidth":1,"innerRadius":164,"fill":null},"encoding":{"theta":{"field":"p","type":"quantitative","stack":null},"theta2":{"field":"p"},"radius":{"field":"d","type":"quantitative"}}},
{"data":{"name":"ticks"},"mark":{"type":"arc","stroke":"#000000","strokeWidth":1.4,"innerRadius":284,"outerRadius":285.8,"fill":null},"encoding":{"theta":{"field":"p","type":"quantitative","stack":null},"theta2":{"field":"p"}}},
{"data":{"name":"ticks"},"transform":[{"filter":"datum.p%5000==0"}],"mark":{"type":"arc","stroke":"#000000","strokeWidth":1.8,"innerRadius":284,"outerRadius":289,"fill":null},"encoding":{"theta":{"field":"p","type":"quantitative","stack":null},"theta2":{"field":"p"}}},
{"data":{"name":"ticks"},"mark":{"type":"arc","stroke":"#333333","strokeWidth":0.9,"innerRadius":147.5,"outerRadius":149.5,"fill":null},"encoding":{"theta":{"field":"p","type":"quantitative","stack":null},"theta2":{"field":"p"}}},
{"data":{"name":"ticks"},"transform":[{"filter":"datum.p%5000==0"}],"mark":{"type":"arc","stroke":"#111111","strokeWidth":1,"innerRadius":145.5,"outerRadius":150.5,"fill":null},"encoding":{"theta":{"field":"p","type":"quantitative","stack":null},"theta2":{"field":"p"}}},
{"data":{"name":"labels"},"mark":{"type":"arc","stroke":"#a898ad","strokeWidth":0.6,"innerRadius":287,"fill":null},"encoding":{"theta":{"field":"l","type":"quantitative","stack":null},"theta2":{"field":"l"},"radius":{"field":"o","type":"quantitative"}}},
{"data":{"name":"labels"},"mark":{"type":"text","font":"Liberation Sans","fontStyle":"italic","fontSize":5.9,"align":"center","baseline":"middle"},"encoding":{"theta":{"field":"p","type":"quantitative","stack":null},"radius":{"field":"r","type":"quantitative"},"text":{"field":"t"},"color":{"field":"k","type":"nominal","legend":null}}},
{"data":{"name":"kbp"},"mark":{"type":"text","font":"Liberation Sans","fontSize":10,"radius":133,"align":"center","baseline":"middle","fill":"#222222"},"encoding":{"theta":{"field":"p","type":"quantitative","stack":null},"text":{"field":"t"}}},
{"data":{"values":[{"t":"pSFO157 3072/96\n121239 bp"}]},"mark":{"type":"text","font":"Liberation Sans","fontSize":13.4,"lineBreak":"\n","lineHeight":15,"align":"center","baseline":"middle","dx":2,"dy":-10,"fill":"#222222"},"encoding":{"text":{"field":"t"}}}
]},
{"data":{"values":[{"n":"pSFO157 3072/96"},{"n":"pSFO157 H2687"},{"n":"pSFO157 493-89"},{"n":"pSFO157 258/98-1"},{"n":"pSFO157 LSU-61"},{"n":"pO157_2 G5101"},{"n":"pO157 EC4115"}]},"mark":{"type":"point","filled":true,"opacity":0,"size":0},"encoding":{"color":{"field":"n","type":"nominal","title":null,"scale":{"domain":["pSFO157 3072/96","pSFO157 H2687","pSFO157 493-89","pSFO157 258/98-1","pSFO157 LSU-61","pO157_2 G5101","pO157 EC4115"],"range":["#1b45f5","#4f94f5","#5cc3fb","#8dfcff","#bb2a68","#b82a1a","#f0a03c"]},"legend":{"orient":"none","legendX":-51,"legendY":77,"symbolType":"square","symbolSize":121,"symbolOpacity":1,"symbolStrokeWidth":0,"labelFont":"DejaVu Sans","labelFontSize":8.7,"labelColor":"#222222","rowPadding":4.8,"labelOffset":4,"labelLimit":140}}}},
{"data":{"values":[{"n":"Loci of Interest"},{"n":"InDel"},{"n":"CDS"},{"n":"IS Element"}]},"mark":{"type":"point","filled":true,"opacity":0,"size":0},"encoding":{"color":{"field":"n","type":"nominal","title":null,"scale":{"domain":["Loci of Interest","InDel","CDS","IS Element"],"range":["#000000","#3c9a20","#8a1f90","#9a9a9a"]},"legend":{"orient":"none","legendX":-51,"legendY":215,"symbolType":"square","symbolSize":121,"symbolOpacity":1,"symbolStrokeWidth":0,"labelFont":"DejaVu Sans","labelFontSize":8.7,"labelColor":"#222222","rowPadding":4.8,"labelOffset":4,"labelLimit":140}}}}
]}
